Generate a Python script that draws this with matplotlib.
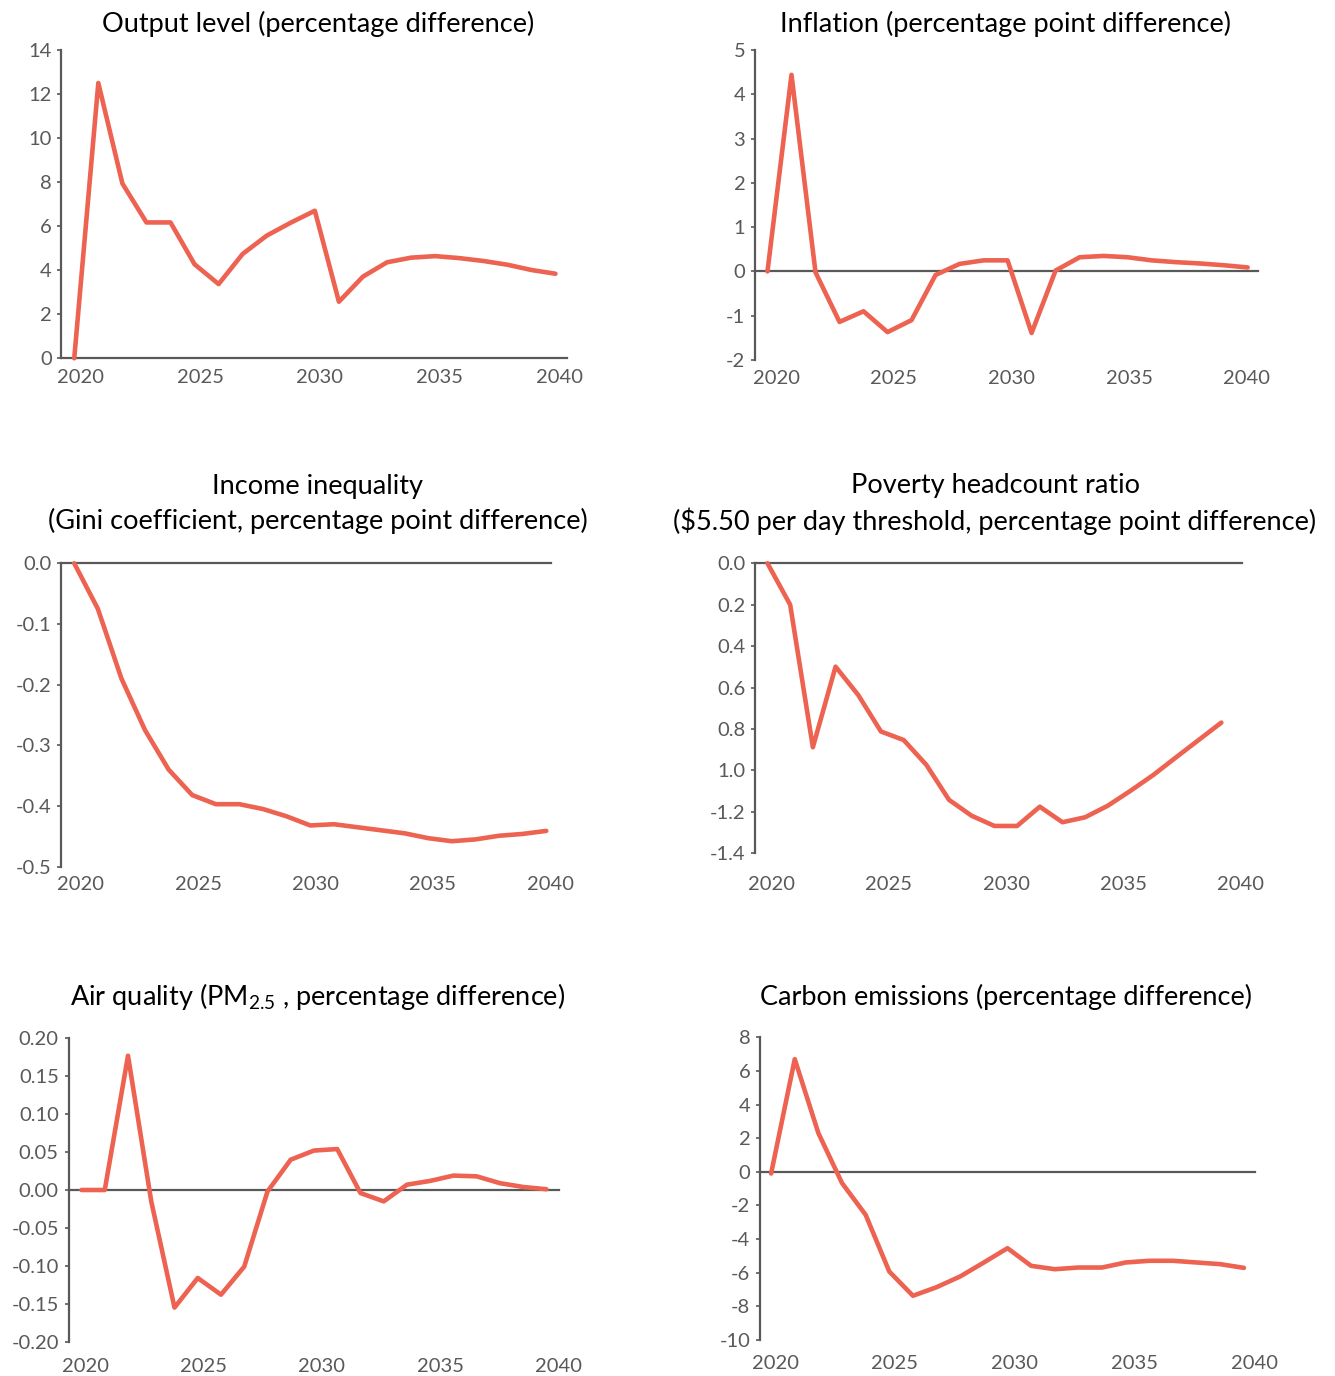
import matplotlib
matplotlib.use("Agg")
import matplotlib.pyplot as plt

plt.rcParams['font.family'] = ['Lato', 'DejaVu Sans']
plt.rcParams['mathtext.fontset'] = 'custom'
plt.rcParams['mathtext.rm'] = 'Lato'
plt.rcParams['mathtext.it'] = 'Lato'
plt.rcParams['mathtext.default'] = 'regular'

years = list(range(2020, 2041))

output_level = [0.0, 12.5, 7.94, 6.17, 6.17, 4.27, 3.37, 4.74, 5.57, 6.16, 6.70,
                2.57, 3.71, 4.36, 4.57, 4.64, 4.55, 4.42, 4.25, 4.01, 3.84]
inflation = [0.0, 4.44, -0.02, -1.14, -0.90, -1.37, -1.10, -0.08, 0.17, 0.25, 0.25,
             -1.39, 0.02, 0.32, 0.35, 0.32, 0.25, 0.21, 0.18, 0.14, 0.09]
gini = [0.0, -0.075, -0.19, -0.275, -0.34, -0.382, -0.397, -0.397, -0.405, -0.417, -0.432,
        -0.430, -0.435, -0.440, -0.445, -0.453, -0.458, -0.455, -0.449, -0.446, -0.441]
poverty = [0.0, -0.20, -0.888, -0.499, -0.636, -0.812, -0.853, -0.973, -1.142, -1.219, -1.268,
           -1.268, -1.175, -1.250, -1.226, -1.170, -1.098, -1.022, -0.937, -0.853, -0.769]
air_quality = [0.0, 0.0, 0.177, -0.015, -0.155, -0.116, -0.138, -0.101, -0.002, 0.040, 0.052,
               0.054, -0.004, -0.015, 0.007, 0.012, 0.019, 0.018, 0.009, 0.004, 0.001]
carbon = [-0.1, 6.70, 2.30, -0.67, -2.56, -5.93, -7.37, -6.86, -6.22, -5.39, -4.54,
          -5.59, -5.79, -5.69, -5.69, -5.39, -5.29, -5.29, -5.39, -5.49, -5.71]

titles = [
    "Output level (percentage difference)",
    "Inflation (percentage point difference)",
    "Income inequality\n(Gini coefficient, percentage point difference)",
    "Poverty headcount ratio\n($5.50 per day threshold, percentage point difference)",
    "Air quality (PM$_{2.5}$ , percentage difference)",
    "Carbon emissions (percentage difference)",
]

x_tick_labels = ["2020", "2025", "2030", "2035", "2040"]

yticks_output = [0, 2, 4, 6, 8, 10, 12, 14]
ylabels_output = ["0", "2", "4", "6", "8", "10", "12", "14"]
yticks_infl = [-2, -1, 0, 1, 2, 3, 4, 5]
ylabels_infl = ["-2", "-1", "0", "1", "2", "3", "4", "5"]
yticks_gini = [0.0, -0.1, -0.2, -0.3, -0.4, -0.5]
ylabels_gini = ["0.0", "-0.1", "-0.2", "-0.3", "-0.4", "-0.5"]
yticks_pov = [0.0, -0.2, -0.4, -0.6, -0.8, -1.0, -1.2, -1.4]
ylabels_pov = ["0.0", "0.2", "0.4", "0.6", "0.8", "1.0", "-1.2", "-1.4"]
yticks_air = [0.20, 0.15, 0.10, 0.05, 0.0, -0.05, -0.10, -0.15, -0.20]
ylabels_air = ["0.20", "0.15", "0.10", "0.05", "0.00", "-0.05", "-0.10", "-0.15", "-0.20"]
yticks_co2 = [8, 6, 4, 2, 0, -2, -4, -6, -8, -10]
ylabels_co2 = ["8", "6", "4", "2", "0", "-2", "-4", "-6", "-8", "-10"]

W, H = 1335, 1376
LINE = '#ED6250'
GREY = '#595959'

fig = plt.figure(figsize=(W / 100, H / 100), dpi=100)

# (series, yticks, ylabels, ylim, xlim, pixel box (l, r, top, bottom), tick offset, tick step, xpad,
#  title center (x, y))
panels = [
    (output_level, yticks_output, ylabels_output, (0, 14), (2019.47, 2040.48), (61.5, 567, 50, 358.3), 0.27, 4.97, 8, (318, 24)),
    (inflation, yticks_infl, ylabels_infl, (-2, 5), (2019.48, 2040.43), (755, 1258, 50, 360), 0.36, 4.90, 7, (1006, 24)),
    (gini, yticks_gini, ylabels_gini, (-0.5, 0), (2019.46, 2040.2), (61.5, 551, 563.3, 866.7), 0.28, 4.97, 7, (318, 504)),
    (poverty, yticks_pov, ylabels_pov, (-1.4, 0), (2019.45, 2040.91), (755, 1242, 563.3, 853.3), 0.18, 5.17, 16, (995, 504)),
    (air_quality, yticks_air, ylabels_air, (-0.2, 0.2), (2019.44, 2040.45), (68.5, 558.5, 1038.3, 1341.7), 0.16, 5.09, 12, (318, 997)),
    (carbon, yticks_co2, ylabels_co2, (-10, 8), (2019.53, 2040.47), (760, 1255, 1037.3, 1340), 0.17, 5.07, 11, (1006, 997)),
]

for i, (series, yt, yl, ylim, xlim, box, toff, tstep, xpad, tc) in enumerate(panels):
    l, r, t, b = box
    ax = fig.add_axes([l / W, 1 - b / H, (r - l) / W, (b - t) / H])
    ax.set_facecolor('none')
    ax.axhline(0, color=GREY, lw=1.6, zorder=1, clip_on=False)
    ax.plot(years, series, color=LINE, lw=3.3, zorder=3, clip_on=False,
            solid_joinstyle='round', solid_capstyle='round')
    ax.set_xlim(*xlim)
    ax.set_ylim(*ylim)
    for s in ('top', 'right', 'bottom'):
        ax.spines[s].set_visible(False)
    ax.spines['left'].set_color(GREY)
    ax.spines['left'].set_linewidth(1.6)
    ax.set_yticks(yt)
    ax.set_yticklabels(yl)
    ax.set_xticks([2020 + toff + k * tstep for k in range(5)])
    ax.set_xticklabels(x_tick_labels)
    ax.tick_params(axis='y', length=3, width=1.2, color=GREY, labelcolor=GREY,
                   labelsize=14.5, pad=4)
    ax.tick_params(axis='x', length=0, labelcolor=GREY, labelsize=14.5, pad=xpad)
    fig.text(tc[0] / W, 1 - tc[1] / H, titles[i], ha='center', va='center',
             fontsize=19.5, color='black', linespacing=1.43)

fig.savefig('out.png', dpi=100)
